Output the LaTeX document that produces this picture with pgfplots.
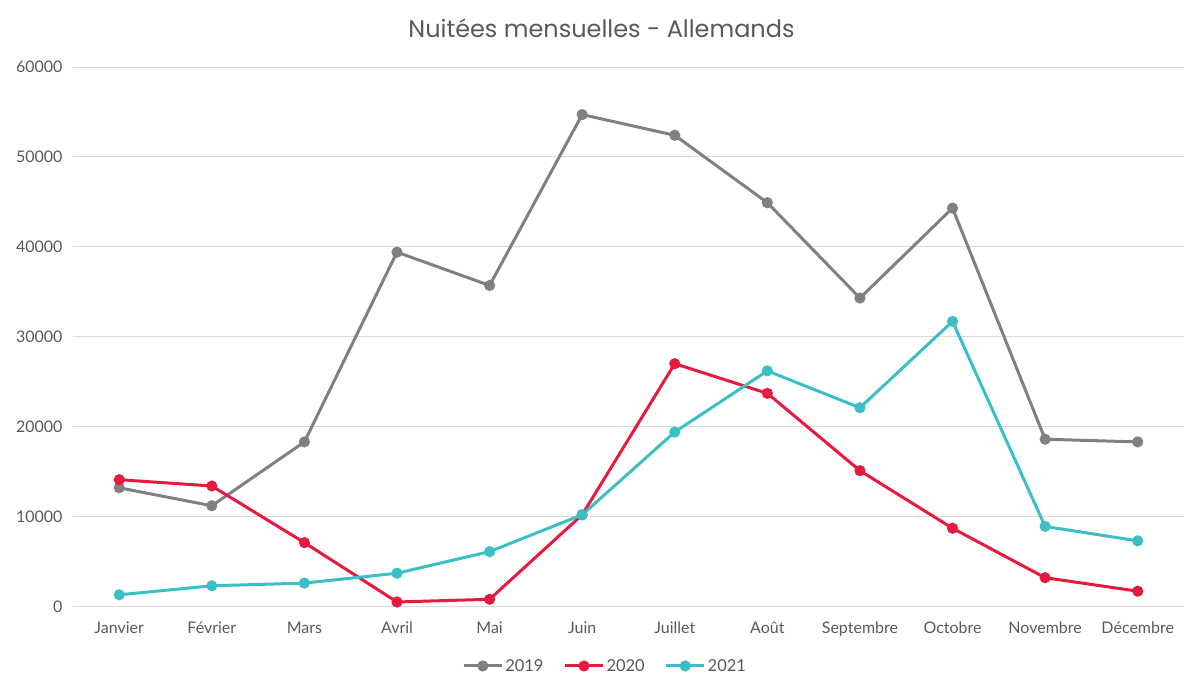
\documentclass[border=0pt]{standalone}
\usepackage{pgfplots}
\pgfplotsset{compat=1.18}
\usepackage{fontspec}
\setmainfont{Lato}
\newfontfamily\titlefont{Poppins}
\definecolor{g19}{HTML}{808080}
\definecolor{r20}{HTML}{E8193F}
\definecolor{t21}{HTML}{3BBFC4}
\definecolor{txt}{HTML}{595959}
\definecolor{grd}{HTML}{D9D9D9}
\begin{document}
\begin{tikzpicture}
\begin{axis}[
  scale only axis,
  width=1112pt, height=540pt,
  xmin=-0.5, xmax=11.5, ymin=0, ymax=60000,
  xtick={0,...,11},
  xticklabels={Janvier,Février,Mars,Avril,Mai,Juin,Juillet,Août,Septembre,Octobre,Novembre,Décembre},
  ytick={0,10000,...,60000},
  scaled y ticks=false,
  /pgf/number format/assume math mode=true,
  yticklabel={\pgfmathprintnumber[fixed,1000 sep={}]{\tick}},
  ymajorgrids, grid style={grd, line width=0.8pt},
  axis x line*=bottom,
  axis y line*=left,
  y axis line style={draw=none},
  x axis line style={grd, line width=0.8pt, -},
  xtick style={draw=none},
  ytick style={draw=none},
  tick label style={font=\fontsize{16}{18}\selectfont, text=txt},
  yticklabel style={xshift=-7pt},
  xticklabel style={yshift=-12pt},
  title={\titlefont\fontsize{24}{28}\selectfont Nuitées mensuelles - Allemands},
  title style={text=txt, yshift=20pt, xshift=-27pt},
  clip=false,
  legend style={at={(0.479,-0.09)}, anchor=north, draw=none, legend columns=3,
     font=\fontsize{16.5}{18}\selectfont, text=txt,
     /tikz/every even column/.append style={column sep=18pt}},
  legend image code/.code={
     \draw[#1, mark=none] (0pt,0pt) -- (38pt,0pt);
     \fill[#1] (19pt,0pt) circle (4pt);
  },
  every axis plot/.append style={line width=3pt, mark=*, mark size=4pt},
]
\addplot[g19, mark options={fill=g19, draw=g19}] coordinates {
(0,13200) (1,11200) (2,18300) (3,39400) (4,35700) (5,54700) (6,52400) (7,44900) (8,34300) (9,44300) (10,18600) (11,18300)};
\addlegendentry{2019}
\addplot[r20, mark options={fill=r20, draw=r20}] coordinates {
(0,14100) (1,13400) (2,7100) (3,500) (4,800) (5,10200) (6,27000) (7,23700) (8,15100) (9,8700) (10,3200) (11,1700)};
\addlegendentry{2020}
\addplot[t21, mark options={fill=t21, draw=t21}] coordinates {
(0,1300) (1,2300) (2,2600) (3,3700) (4,6100) (5,10200) (6,19400) (7,26200) (8,22100) (9,31700) (10,8900) (11,7300)};
\addlegendentry{2021}
\end{axis}
\pgfresetboundingbox
\path ([xshift=-73pt,yshift=-71pt]current axis.south west) rectangle ([yshift=67pt]current axis.north east);
\end{tikzpicture}
\end{document}
